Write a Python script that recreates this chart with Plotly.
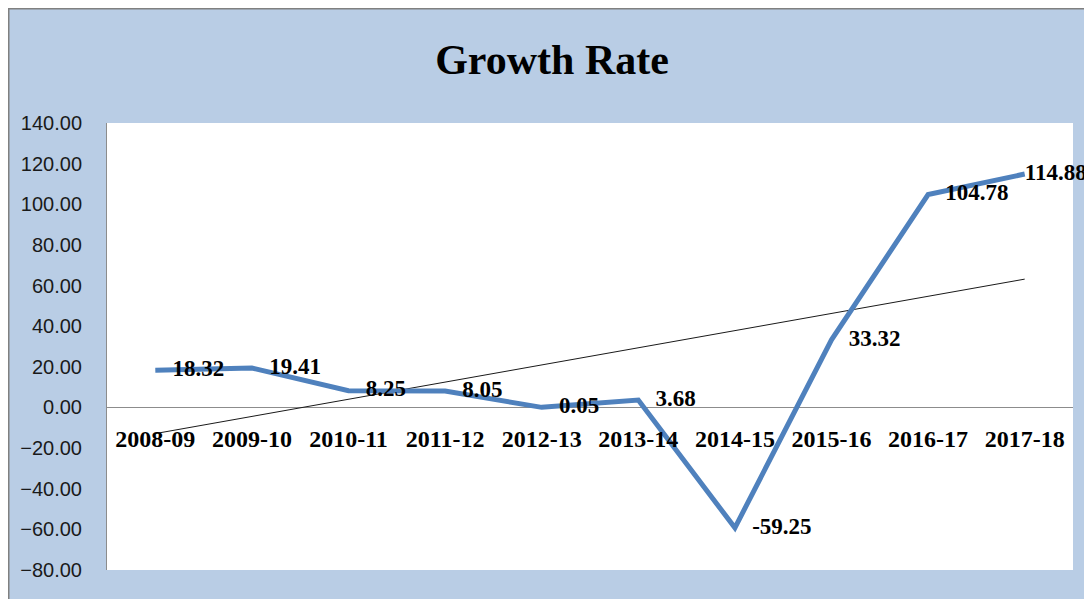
import numpy as np
import plotly.graph_objects as go

years = ["2008-09", "2009-10", "2010-11", "2011-12", "2012-13",
         "2013-14", "2014-15", "2015-16", "2016-17", "2017-18"]
growth = [18.32, 19.41, 8.25, 8.05, 0.05, 3.68, -59.25, 33.32, 104.78, 114.88]

# linear trendline like the excel one
idx = np.arange(len(years))
slope, icpt = np.polyfit(idx, growth, 1)
trend = slope * idx + icpt

# page body has an 8px margin, which gives the white strip at top/left
W, H = 1084, 591
L, R, T, B = 99, 19, 115, 29
pw, ph = W - L - R, H - T - B

def px(x):
    return (x - L) / pw

def py(y):
    return (H - B - y) / ph

serif = "Liberation Serif, Times New Roman, serif"
sans = "Liberation Sans, Arial, sans-serif"

# labels sit a bit right of the point; the last one hugs it to stay on the page
gap = "\u00a0" * 3
labels = [(gap if i < len(growth) - 1 else "") + f"{v:.2f}" for i, v in enumerate(growth)]

fig = go.Figure()
fig.add_trace(go.Scatter(
    x=years, y=trend, mode="lines",
    line=dict(color="#1a1a1a", width=1), hoverinfo="skip"))
fig.add_trace(go.Scatter(
    x=years, y=growth, mode="lines+text",
    line=dict(color="#4F81BD", width=5),
    text=labels, textposition="middle right",
    textfont=dict(family=serif, size=23, color="black", weight="bold"),
    cliponaxis=False))

# grey border of the chart area (top and left edges)
shapes = [
    dict(type="line", xref="paper", yref="paper", x0=px(0), x1=px(W), y0=py(0.5), y1=py(0.5),
         line=dict(color="#808080", width=2)),
    dict(type="line", xref="paper", yref="paper", x0=px(0.5), x1=px(0.5), y0=py(0), y1=py(H),
         line=dict(color="#808080", width=2)),
]

fig.update_layout(
    width=W, height=H,
    margin=dict(l=L, r=R, t=T, b=B, autoexpand=False),
    paper_bgcolor="#B9CDE5", plot_bgcolor="white",
    showlegend=False, shapes=shapes,
    title=dict(text="<b>Growth Rate</b>", x=544 / W, xanchor="center",
               y=1 - 51 / H, yanchor="middle", automargin=False,
               font=dict(family=serif, size=42, color="black")),
    xaxis=dict(type="category", range=[-0.5, 9.5], showgrid=False, showline=False,
               anchor="free", position=80 / 220, ticks="", ticklabelstandoff=15,
               automargin=False,
               tickfont=dict(family=serif, size=24, color="black", weight="bold")),
    yaxis=dict(range=[-80, 140], dtick=20, tickformat=".2f", showgrid=False,
               showline=True, linecolor="#8c8c8c", linewidth=1, ticks="",
               zeroline=True, zerolinecolor="#8c8c8c", zerolinewidth=1,
               ticklabelstandoff=20, automargin=False,
               tickfont=dict(family=sans, size=20, color="#1a1a1a")),
)

fig.write_html("out.html")
